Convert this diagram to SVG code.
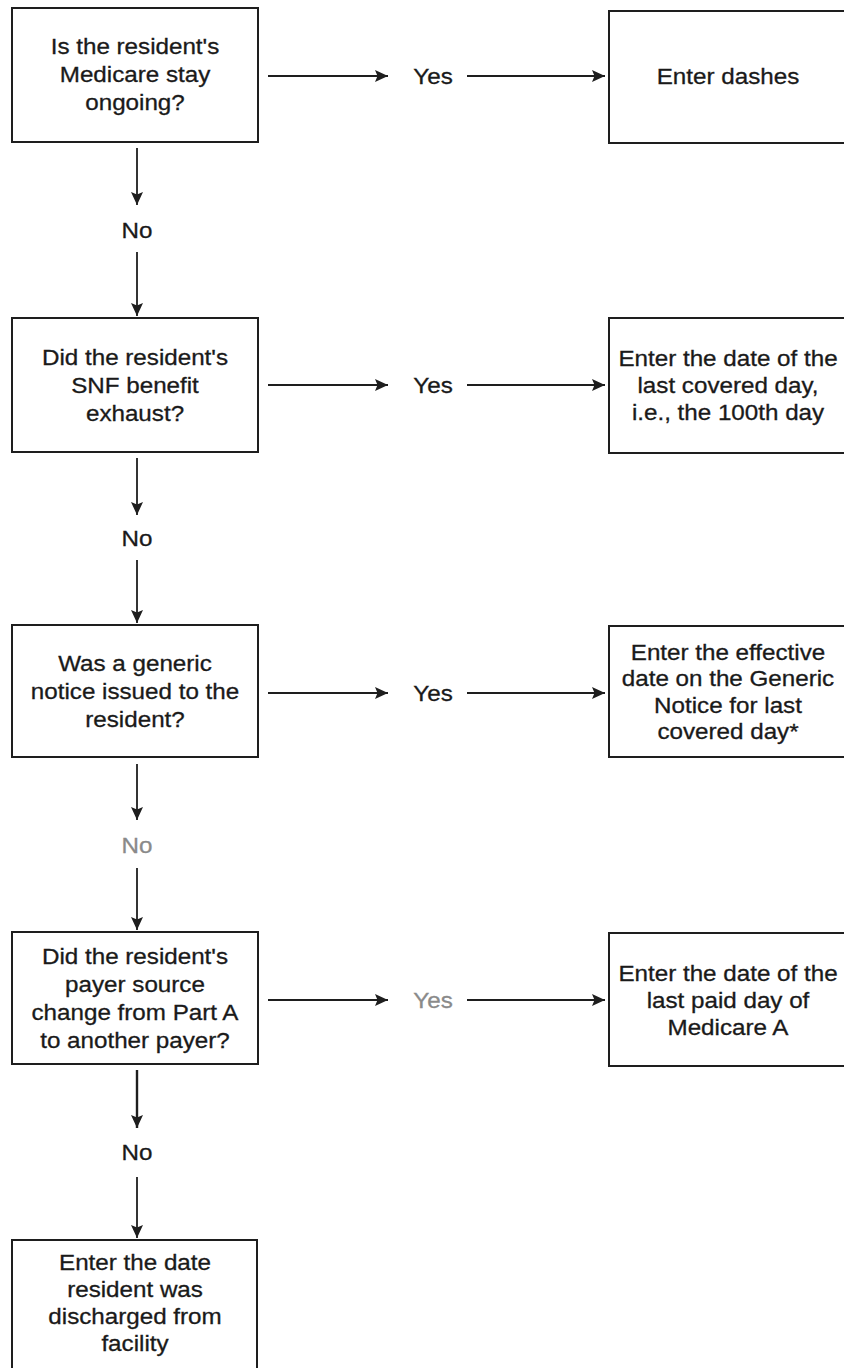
<svg xmlns="http://www.w3.org/2000/svg" width="844" height="1368" viewBox="0 0 844 1368">
  <defs>
    <marker id="head" viewBox="0 0 13 12" refX="13" refY="6" markerWidth="13" markerHeight="12" markerUnits="userSpaceOnUse" orient="auto">
      <path d="M0,0 L13,6 L0,12 L2.5,6 z" fill="#1e1e1e"/>
    </marker>
    <style>
      .box { fill: #ffffff; stroke: #1e1e1e; stroke-width: 2; }
      .lbl { font-family: "Liberation Sans", Arial, sans-serif; font-size: 22px; fill: #1a1a1a; stroke: #1a1a1a; stroke-width: 0.3; text-anchor: middle; }
      .edge { stroke: #1e1e1e; stroke-width: 1.8; fill: none; marker-end: url(#head); }
      .faint { fill: #8a8a8a; stroke: #8a8a8a; }
    </style>
  </defs>
  <rect width="844" height="1368" fill="#ffffff"/>

  <!-- connectors -->
  <g id="connectors">
    <!-- yes branches -->
    <line class="edge" x1="268" y1="76" x2="388" y2="76"/>
    <line class="edge" x1="467" y1="76" x2="605" y2="76"/>
    <line class="edge" x1="268" y1="385" x2="388" y2="385"/>
    <line class="edge" x1="467" y1="385" x2="605" y2="385"/>
    <line class="edge" x1="268" y1="693" x2="388" y2="693"/>
    <line class="edge" x1="467" y1="693" x2="605" y2="693"/>
    <line class="edge" x1="268" y1="1000" x2="388" y2="1000"/>
    <line class="edge" x1="467" y1="1000" x2="605" y2="1000"/>
    <!-- no branches -->
    <line class="edge" x1="137" y1="148" x2="137" y2="205"/>
    <line class="edge" x1="137" y1="252" x2="137" y2="316"/>
    <line class="edge" x1="137" y1="458" x2="137" y2="515"/>
    <line class="edge" x1="137" y1="560" x2="137" y2="623"/>
    <line class="edge" x1="137" y1="764" x2="137" y2="820"/>
    <line class="edge" x1="137" y1="868" x2="137" y2="930"/>
    <line class="edge" x1="137" y1="1070" x2="137" y2="1128" style="stroke-width:2.4"/>
    <line class="edge" x1="137" y1="1177" x2="137" y2="1238"/>
    <!-- branch labels -->
    <text class="lbl" transform="translate(433,84) scale(1.1,1)" x="0" y="0">Yes</text>
    <text class="lbl" transform="translate(433,393) scale(1.1,1)" x="0" y="0">Yes</text>
    <text class="lbl" transform="translate(433,701) scale(1.1,1)" x="0" y="0">Yes</text>
    <text class="lbl faint" transform="translate(433,1008) scale(1.1,1)" x="0" y="0">Yes</text>
    <text class="lbl" transform="translate(137,238) scale(1.1,1)" x="0" y="0">No</text>
    <text class="lbl" transform="translate(137,546) scale(1.1,1)" x="0" y="0">No</text>
    <text class="lbl faint" transform="translate(137,853) scale(1.1,1)" x="0" y="0">No</text>
    <text class="lbl" transform="translate(137,1160) scale(1.1,1)" x="0" y="0">No</text>
  </g>

  <!-- decision 1 -->
  <g id="q-medicare-ongoing">
    <rect class="box" x="12" y="8" width="246" height="134"/>
    <g class="lbl" transform="translate(135,0) scale(1.1,1)">
      <text x="0" y="54">Is the resident's</text>
      <text x="0" y="82">Medicare stay</text>
      <text x="0" y="110">ongoing?</text>
    </g>
  </g>
  <g id="a-dashes">
    <rect class="box" x="609" y="11" width="241" height="132"/>
    <g class="lbl" transform="translate(728,0) scale(1.1,1)">
      <text x="0" y="84">Enter dashes</text>
    </g>
  </g>

  <!-- decision 2 -->
  <g id="q-benefit-exhaust">
    <rect class="box" x="12" y="318" width="246" height="134"/>
    <g class="lbl" transform="translate(135,0) scale(1.1,1)">
      <text x="0" y="365">Did the resident's</text>
      <text x="0" y="393">SNF benefit</text>
      <text x="0" y="421">exhaust?</text>
    </g>
  </g>
  <g id="a-100th-day">
    <rect class="box" x="609" y="318" width="241" height="135"/>
    <g class="lbl" transform="translate(728,0) scale(1.1,1)">
      <text x="0" y="366">Enter the date of the</text>
      <text x="0" y="393">last covered day,</text>
      <text x="0" y="420">i.e., the 100th day</text>
    </g>
  </g>

  <!-- decision 3 -->
  <g id="q-generic-notice">
    <rect class="box" x="12" y="625" width="246" height="132"/>
    <g class="lbl" transform="translate(135,0) scale(1.1,1)">
      <text x="0" y="671">Was a generic</text>
      <text x="0" y="699">notice issued to the</text>
      <text x="0" y="727">resident?</text>
    </g>
  </g>
  <g id="a-notice-date">
    <rect class="box" x="609" y="626" width="241" height="131"/>
    <g class="lbl" transform="translate(728,0) scale(1.1,1)">
      <text x="0" y="660">Enter the effective</text>
      <text x="0" y="686">date on the Generic</text>
      <text x="0" y="713">Notice for last</text>
      <text x="0" y="739">covered day*</text>
    </g>
  </g>

  <!-- decision 4 -->
  <g id="q-payer-change">
    <rect class="box" x="12" y="932" width="246" height="132"/>
    <g class="lbl" transform="translate(135,0) scale(1.1,1)">
      <text x="0" y="964">Did the resident's</text>
      <text x="0" y="992">payer source</text>
      <text x="0" y="1020">change from Part A</text>
      <text x="0" y="1048">to another payer?</text>
    </g>
  </g>
  <g id="a-last-paid-day">
    <rect class="box" x="609" y="933" width="241" height="133"/>
    <g class="lbl" transform="translate(728,0) scale(1.1,1)">
      <text x="0" y="981">Enter the date of the</text>
      <text x="0" y="1008">last paid day of</text>
      <text x="0" y="1035">Medicare A</text>
    </g>
  </g>

  <!-- final outcome -->
  <g id="a-discharge-date">
    <rect class="box" x="12" y="1240" width="245" height="140"/>
    <g class="lbl" transform="translate(135,0) scale(1.1,1)">
      <text x="0" y="1270">Enter the date</text>
      <text x="0" y="1297">resident was</text>
      <text x="0" y="1324">discharged from</text>
      <text x="0" y="1351">facility</text>
    </g>
  </g>
</svg>
